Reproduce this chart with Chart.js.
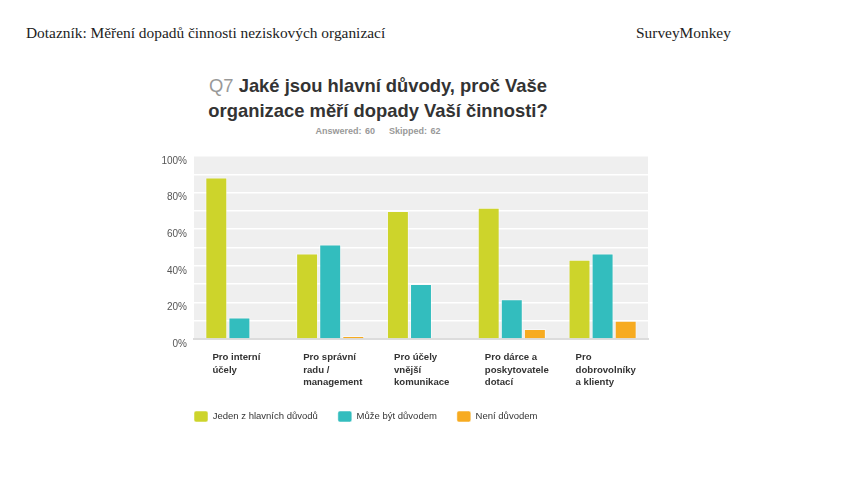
<!DOCTYPE html>
<html>
<head>
<meta charset="utf-8">
<script src="https://cdn.jsdelivr.net/npm/chart.js@4"></script>
<style>
    body { margin: 0; background: #fff; }
    #page { position: relative; width: 850px; height: 479px; overflow: hidden; }
    .hdr { position: absolute; top: 24px; font-family: "Liberation Serif", "Times New Roman", serif; font-size: 15.4px; color: #222; }
    #titulo { position: absolute; left: 128px; width: 500px; top: 73px; text-align: center;
        font-family: "Liberation Sans", Arial, sans-serif; font-weight: bold; font-size: 18.4px; line-height: 25px; color: #333; }
    #titulo .q { color: #999; font-weight: normal; }
    #resumen { position: absolute; left: 228px; width: 300px; top: 126px; text-align: center;
        font-family: "Liberation Sans", Arial, sans-serif; font-weight: bold; font-size: 9px; color: #999; word-spacing: 1px; }
    #grafico { position: absolute; left: 0; top: 0; }
</style>
</head>
<body>
<div id="page">
    <div class="hdr" style="left:26px">Dotazník: Měření dopadů činnosti neziskových organizací</div>
    <div class="hdr" style="left:636px">SurveyMonkey</div>
    <div id="titulo"><span class="q">Q7</span> Jaké jsou hlavní důvody, proč Vaše<br>organizace měří dopady Vaší činnosti?</div>
    <div id="resumen">Answered: 60&nbsp;&nbsp;&nbsp;&nbsp;Skipped: 62</div>
    <canvas id="grafico" width="850" height="479"></canvas>
</div>
<script>
const categorias = [
    ["Pro interní", "účely"],
    ["Pro správní", "radu /", "management"],
    ["Pro účely", "vnější", "komunikace"],
    ["Pro dárce a", "poskytovatele", "dotací"],
    ["Pro", "dobrovolníky", "a klienty"]
];
const serieNombres = ["Jeden z hlavních důvodů", "Může být důvodem", "Není důvodem"];
const jedenZHlavnich = [88.3, 46.7, 70, 71.7, 43.3];
const muzeBytDuvodem = [11.7, 51.7, 30, 21.7, 46.7];
const neniDuvodem = [0, 1.7, 0, 5.5, 10];
const ticksY = [0, 20, 40, 60, 80, 100];

const colores = ["#cdd42b", "#33bdbe", "#f7ab20"];

// fondo gris del area del grafico
const fondoPlot = {
    id: "fondoPlot",
    beforeDraw(chart) {
        const a = chart.chartArea;
        const ctx = chart.ctx;
        ctx.save();
        ctx.fillStyle = "#efefef";
        ctx.fillRect(a.left, a.top, a.right - a.left, a.bottom - a.top);
        ctx.restore();
    }
};

// la leyenda empieza alineada con el area del grafico
const moverLeyenda = {
    id: "moverLeyenda",
    afterLayout(chart) {
        if (chart.legend) chart.legend.left += 24;
    }
};

const ctx = document.getElementById("grafico").getContext("2d");
new Chart(ctx, {
    type: "bar",
    data: {
        labels: categorias,
        datasets: [jedenZHlavnich, muzeBytDuvodem, neniDuvodem].map((d, i) => ({
            label: serieNombres[i],
            data: d,
            backgroundColor: colores[i],
            borderColor: "rgba(255,255,255,0.5)",
            borderWidth: 1,
            barPercentage: 0.95,
            categoryPercentage: 0.763
        }))
    },
    options: {
        responsive: false,
        animation: false,
        layout: { padding: { left: 150, right: 202, top: 156, bottom: 47 } },
        plugins: {
            title: { display: false },
            tooltip: { enabled: false },
            legend: {
                position: "bottom",
                align: "start",
                labels: {
                    boxWidth: 14,
                    boxHeight: 11,
                    padding: 20,
                    useBorderRadius: true,
                    borderRadius: 2,
                    color: "#333",
                    font: { family: "'Liberation Sans', Arial, sans-serif", size: 9.5 }
                }
            }
        },
        scales: {
            x: {
                grid: { display: false, drawTicks: false },
                border: { display: true, color: "#dcdcdc", width: 2 },
                ticks: {
                    align: "start",
                    labelOffset: -27,
                    padding: 12,
                    color: "#333",
                    font: { family: "'Liberation Sans', Arial, sans-serif", size: 9.6, weight: "bold", lineHeight: 1.31 }
                },
                afterFit: s => { s.height = 52; }
            },
            y: {
                min: 0,
                max: 100,
                grid: { color: "#ffffff", lineWidth: 1.5, drawTicks: false },
                border: { display: false },
                ticks: {
                    stepSize: 10,
                    padding: 7,
                    labelOffset: 5,
                    color: "#555",
                    font: { family: "'Liberation Sans', Arial, sans-serif", size: 10 },
                    callback: v => ticksY.includes(v) ? v + "%" : ""
                },
                afterFit: s => { s.width = 44; }
            }
        }
    },
    plugins: [fondoPlot, moverLeyenda]
});
</script>
</body>
</html>
